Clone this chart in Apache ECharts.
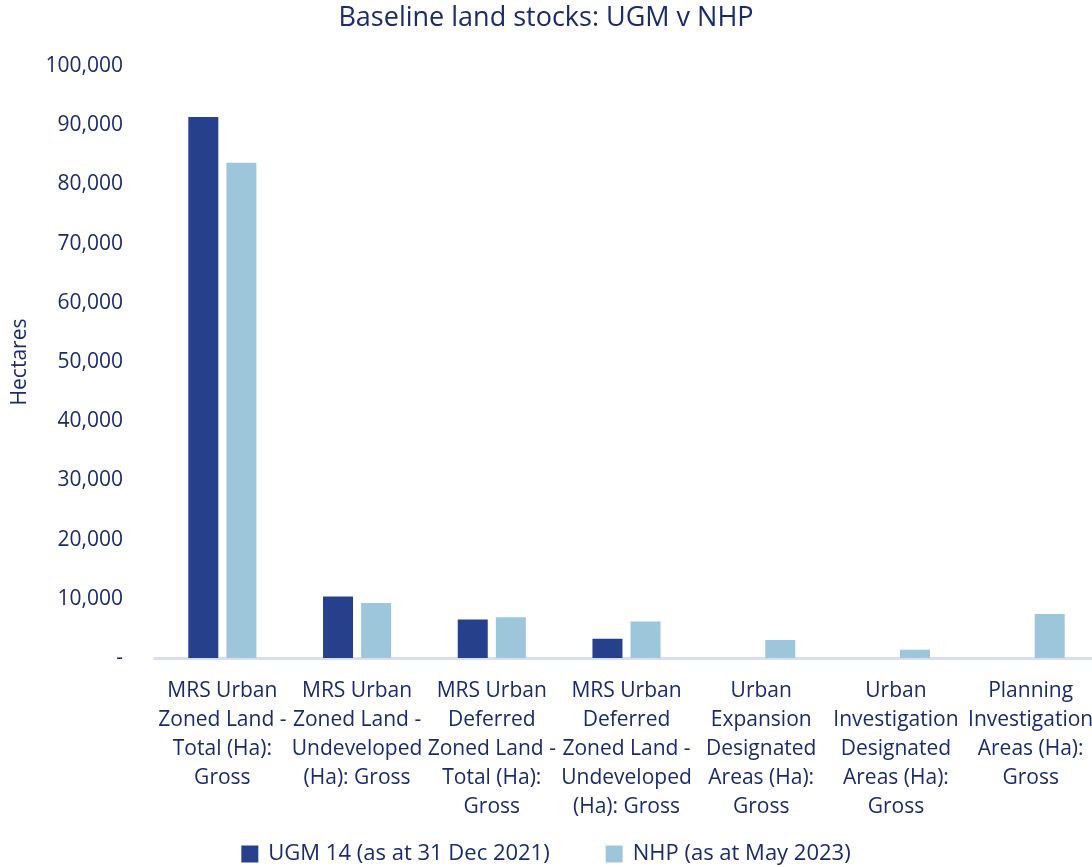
<!DOCTYPE html>
<html>
<head>
<meta charset="utf-8">
<script src="https://cdn.jsdelivr.net/npm/echarts@6/dist/echarts.min.js"></script>
<style>
  html, body { margin: 0; padding: 0; background: #ffffff; }
  #chart { width: 1092px; height: 867px; }
</style>
</head>
<body>
<div id="chart"></div>
<script>
// Land stock categories (hectares, gross)
const categories = [
  'MRS Urban\nZoned Land -\nTotal (Ha):\nGross',
  'MRS Urban\nZoned Land -\nUndeveloped\n(Ha): Gross',
  'MRS Urban\nDeferred\nZoned Land -\nTotal (Ha):\nGross',
  'MRS Urban\nDeferred\nZoned Land -\nUndeveloped\n(Ha): Gross',
  'Urban\nExpansion\nDesignated\nAreas (Ha):\nGross',
  'Urban\nInvestigation\nDesignated\nAreas (Ha):\nGross',
  'Planning\nInvestigation\nAreas (Ha):\nGross'
];
const seriesNames = ['UGM 14 (as at 31 Dec 2021)', 'NHP (as at May 2023)'];
const ugmValues = [91400, 10400, 6500, 3250, null, null, null];
const nhpValues = [83650, 9300, 6900, 6150, 3050, 1400, 7450];

const textColor = '#1b2c68';
const fontFamily = "'Open Sans', 'Noto Sans', sans-serif";

const chart = echarts.init(document.getElementById('chart'));
chart.setOption({
  animation: false,
  textStyle: { fontFamily: fontFamily, color: textColor },
  title: {
    text: 'Baseline land stocks: UGM v NHP',
    left: 'center',
    top: 0,
    textStyle: { fontFamily: fontFamily, fontSize: 27, fontWeight: 'normal', color: textColor }
  },
  legend: {
    bottom: -3,
    left: 'center',
    itemWidth: 17,
    itemHeight: 17,
    itemGap: 56,
    icon: 'rect',
    textStyle: { fontFamily: fontFamily, fontSize: 22, color: textColor, padding: [0, 0, 0, 5] },
    data: seriesNames
  },
  grid: { left: 155, right: -6, top: 66, bottom: 209, containLabel: false, outerBoundsMode: 'none' },
  xAxis: {
    type: 'category',
    data: categories,
    axisLine: { lineStyle: { color: '#dadcef', width: 3 } },
    axisTick: { show: false },
    axisLabel: {
      interval: 0,
      margin: 19,
      fontFamily: fontFamily,
      fontSize: 21,
      lineHeight: 29,
      color: textColor,
      align: 'center',
      verticalAlign: 'top'
    }
  },
  yAxis: {
    type: 'value',
    min: 0,
    max: 100000,
    interval: 10000,
    name: 'Hectares',
    nameLocation: 'middle',
    nameRotate: 90,
    nameGap: 124,
    nameTextStyle: { fontFamily: fontFamily, fontSize: 21, color: textColor },
    axisLine: { show: false },
    axisTick: { show: false },
    splitLine: { show: false },
    axisLabel: {
      margin: 32,
      fontFamily: fontFamily,
      fontSize: 21,
      color: textColor,
      formatter: function (v) {
        return v === 0 ? '-' : v.toLocaleString('en-US');
      }
    }
  },
  series: [
    {
      name: seriesNames[0],
      type: 'bar',
      data: ugmValues,
      barWidth: 30,
      barGap: '27%',
      itemStyle: { color: '#26408b' }
    },
    {
      name: seriesNames[1],
      type: 'bar',
      data: nhpValues,
      barWidth: 30,
      itemStyle: { color: '#9dc6da' }
    }
  ]
});
</script>
</body>
</html>
